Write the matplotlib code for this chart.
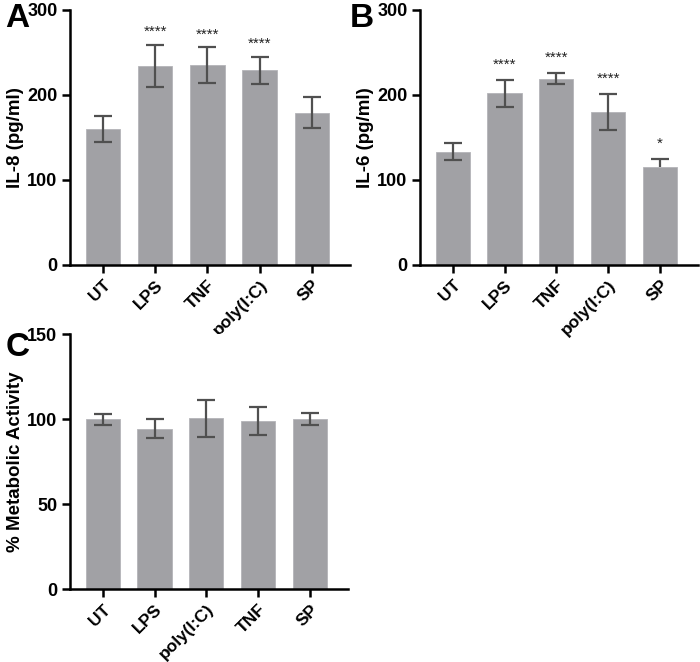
import matplotlib
matplotlib.use("Agg")
import matplotlib.pyplot as plt

plt.rcParams['font.family'] = ['Liberation Sans', 'DejaVu Sans']
plt.rcParams['font.weight'] = 'bold'

# panel A: IL-8
cats_a = ["UT", "LPS", "TNF", "poly(I:C)", "SP"]
il8_mean = [160, 234, 235, 229, 179]
il8_err = [15, 25, 21, 16, 18]
il8_stars = ["", "****", "****", "****", ""]

# panel B: IL-6
cats_b = ["UT", "LPS", "TNF", "poly(I:C)", "SP"]
il6_mean = [133, 202, 219, 180, 115]
il6_err_lo = [10, 16, 6.5, 21, 0]
il6_err_hi = [10, 16, 6.5, 21, 10]
il6_stars = ["", "****", "****", "****", "*"]

# panel C: metabolic activity
cats_c = ["UT", "LPS", "poly(I:C)", "TNF", "SP"]
met_mean = [100, 94.5, 100.5, 99, 100]
met_err = [3.3, 5.4, 10.7, 8, 3.4]

bar_col = "#a1a1a5"
err_col = "#505050"


def panel(ax, cats, mean, lo, hi, ymax, step, ylabel, stars=None, star_gap=0):
    x = list(range(len(cats)))
    ax.bar(x, mean, width=0.66, color=bar_col, edgecolor="#b4b4b8", linewidth=0.6, zorder=2)
    for i in x:
        _, caps, _ = ax.errorbar(i, mean[i], yerr=[[lo[i]], [hi[i]]], fmt="none",
                                 ecolor=err_col, elinewidth=1.6, capsize=6.5,
                                 capthick=1.6, zorder=3)
        if lo[i] == 0:
            caps[0].remove()
    if stars:
        for i, s in enumerate(stars):
            if s:
                ax.text(i, mean[i] + hi[i] + star_gap, s, ha="center", va="center",
                        fontsize=11, fontweight="normal", color="#222222")
    ax.set_xlim(-0.63, len(cats) - 0.27)
    ax.set_ylim(0, ymax)
    ax.set_yticks(range(0, ymax + 1, step))
    ax.set_xticks(x)
    ax.set_xticklabels(cats, rotation=45, ha="right", rotation_mode="anchor",
                       fontsize=12.5, fontweight="bold")
    for lab in ax.get_yticklabels():
        lab.set_fontsize(13)
        lab.set_fontweight("bold")
    ax.set_ylabel(ylabel, fontsize=13.5, fontweight="bold", labelpad=2)
    ax.spines["top"].set_visible(False)
    ax.spines["right"].set_visible(False)
    ax.spines["left"].set_linewidth(1.8)
    ax.spines["bottom"].set_linewidth(1.8)
    ax.tick_params(axis="both", width=1.8, length=6, direction="out", pad=3)


fig = plt.figure(figsize=(7, 6.62), dpi=100)
ax_a = fig.add_axes([0.1, 0.6, 0.4, 0.385])
ax_b = fig.add_axes([0.6, 0.6, 0.397, 0.385])
ax_c = fig.add_axes([0.1, 0.11, 0.397, 0.385])

panel(ax_a, cats_a, il8_mean, il8_err, il8_err, 300, 100, "IL-8 (pg/ml)", il8_stars, 15)
panel(ax_b, cats_b, il6_mean, il6_err_lo, il6_err_hi, 300, 100, "IL-6 (pg/ml)", il6_stars, 18)
panel(ax_c, cats_c, met_mean, met_err, met_err, 150, 50, "% Metabolic Activity")

fig.text(0.008, 0.972, "A", fontsize=24, fontweight="bold", va="center", ha="left")
fig.text(0.5, 0.972, "B", fontsize=24, fontweight="bold", va="center", ha="left")
fig.text(0.008, 0.475, "C", fontsize=24, fontweight="bold", va="center", ha="left")

fig.savefig("out.png", dpi=100)
